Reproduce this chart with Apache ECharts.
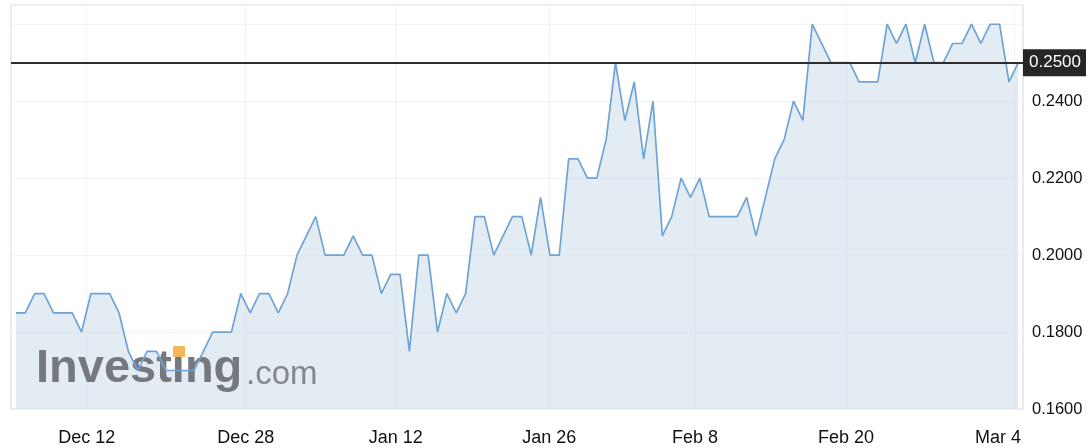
<!DOCTYPE html>
<html>
<head>
<meta charset="utf-8">
<script src="https://cdn.jsdelivr.net/npm/echarts@6/dist/echarts.min.js"></script>
<style>
html,body{margin:0;padding:0;background:#fff;}
#chart{width:1088px;height:448px;}
</style>
</head>
<body>
<div id="chart"></div>
<script>
// Price values (one per trading session, evenly spaced)
const prices = [
  0.185, 0.185, 0.19, 0.19, 0.185, 0.185, 0.185, 0.18, 0.19, 0.19,
  0.19, 0.185, 0.175, 0.17, 0.175, 0.175, 0.17, 0.17, 0.17, 0.17,
  0.175, 0.18, 0.18, 0.18, 0.19, 0.185, 0.19, 0.19, 0.185, 0.19,
  0.20, 0.205, 0.21, 0.20, 0.20, 0.20, 0.205, 0.20, 0.20, 0.19,
  0.195, 0.195, 0.175, 0.20, 0.20, 0.18, 0.19, 0.185, 0.19, 0.21,
  0.21, 0.20, 0.205, 0.21, 0.21, 0.20, 0.215, 0.20, 0.20, 0.225,
  0.225, 0.22, 0.22, 0.23, 0.25, 0.235, 0.245, 0.225, 0.24, 0.205,
  0.21, 0.22, 0.215, 0.22, 0.21, 0.21, 0.21, 0.21, 0.215, 0.205,
  0.215, 0.225, 0.23, 0.24, 0.235, 0.26, 0.255, 0.25, 0.25, 0.25,
  0.245, 0.245, 0.245, 0.26, 0.255, 0.26, 0.25, 0.26, 0.25, 0.25,
  0.255, 0.255, 0.26, 0.255, 0.26, 0.26, 0.245, 0.25
];
// Date tick labels and their position on the session index scale
const tickLabels = ['Dec 12', 'Dec 28', 'Jan 12', 'Jan 26', 'Feb 8', 'Feb 20', 'Mar 4'];
const tickIndex = [7.55, 24.52, 40.54, 56.93, 72.49, 88.61, 106.54];
// Reference level
const refLevel = 0.25;
const yTicks = [0.16, 0.18, 0.20, 0.22, 0.24];

const seriesData = prices.map((v, i) => [i, v]);

const chart = echarts.init(document.getElementById('chart'), null, {renderer: 'canvas'});
const FONT = 'Liberation Sans, Arial, Helvetica, sans-serif';

const option = {
  animation: false,
  backgroundColor: '#ffffff',
  grid: {
    left: 11, right: 65, top: 5, bottom: 39,
    show: true, borderColor: '#e2e5ee', borderWidth: 1.5, backgroundColor: 'transparent'
  },
  xAxis: {
    type: 'value',
    min: -0.53,
    max: 107.5,
    axisLine: {show: false},
    axisTick: {show: false, customValues: tickIndex},
    splitLine: {show: true, lineStyle: {color: '#f1f2f4', width: 1}},
    axisLabel: {
      customValues: tickIndex,
      margin: 20,
      color: '#111',
      fontSize: 18,
      fontFamily: FONT,
      formatter: function (val) {
        let k = -1, best = 1e9;
        tickIndex.forEach((t, i) => { const d = Math.abs(t - val); if (d < best) { best = d; k = i; } });
        if (k === tickIndex.length - 1) return '{m|' + tickLabels[k] + '}';
        return tickLabels[k];
      },
      rich: {
        m: {fontSize: 18, fontFamily: FONT, color: '#111', padding: [0, 32, 0, 0]}
      }
    }
  },
  yAxis: {
    type: 'value',
    position: 'right',
    min: 0.16,
    max: 0.265,
    interval: 0.02,
    axisLine: {show: false},
    axisTick: {show: false},
    splitLine: {show: true, lineStyle: {color: '#f1f2f4', width: 1}},
    axisLabel: {
      margin: 9,
      color: '#111',
      fontSize: 16.5,
      fontFamily: FONT,
      formatter: function (v) {
        const hit = yTicks.some(t => Math.abs(t - v) < 1e-9);
        return hit ? v.toFixed(4) : '';
      }
    }
  },
  graphic: [
    {
      type: 'text', z: 2,
      x: 36, y: 369,
      style: {text: 'Investing', font: 'bold 47px ' + FONT, fill: '#75797f', verticalAlign: 'middle', align: 'left'}
    },
    {
      type: 'rect', z: 2,
      shape: {x: 173, y: 346, width: 12, height: 11},
      style: {fill: '#f6b65a'}
    },
    {
      type: 'text', z: 2,
      x: 246, y: 375,
      style: {text: '.com', font: '33px ' + FONT, fill: '#84888e', verticalAlign: 'middle', align: 'left'}
    }
  ],
  series: [
    {
      type: 'line',
      z: 1,
      data: seriesData,
      symbol: 'none',
      silent: true,
      lineStyle: {width: 0, opacity: 0},
      areaStyle: {color: '#d2e0ec', opacity: 0.62}
    },
    {
      type: 'line',
      z: 3,
      data: seriesData,
      symbol: 'none',
      silent: true,
      lineStyle: {color: '#6ea3d6', width: 1.7},
      markLine: {
        silent: true,
        symbol: ['none', 'none'],
        lineStyle: {color: '#2e2e2e', width: 2, type: 'solid'},
        label: {
          show: true,
          position: 'end',
          distance: 0,
          formatter: refLevel.toFixed(4),
          color: '#ffffff',
          backgroundColor: '#262626',
          fontSize: 17,
          fontFamily: FONT,
          padding: [5, 5, 5, 6]
        },
        data: [{yAxis: refLevel}]
      }
    }
  ]
};
chart.setOption(option);
</script>
</body>
</html>
